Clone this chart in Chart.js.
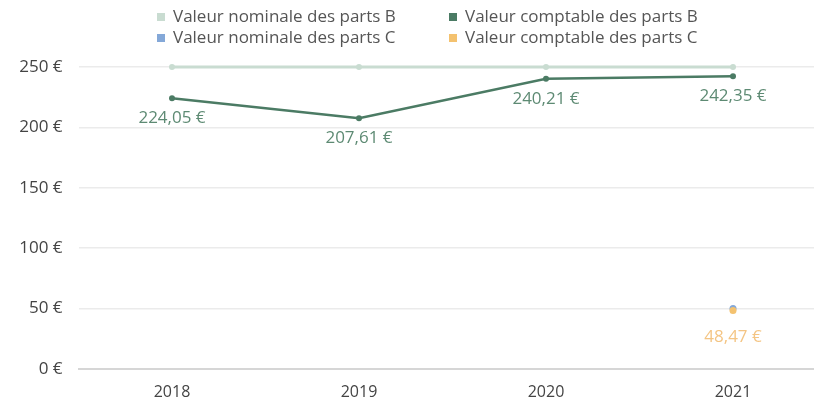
<!DOCTYPE html>
<html>
<head>
<meta charset="utf-8">
<script src="https://cdn.jsdelivr.net/npm/chart.js@4.4.1/dist/chart.umd.min.js"></script>
<style>
  html, body { margin: 0; padding: 0; background: #fff; overflow: hidden; }
  #wrap { position: relative; width: 880px; height: 401px; }
</style>
</head>
<body>
<div id="wrap"><canvas id="partsChart"></canvas></div>
<script>
// Valeurs des parts B et C
const years = ['2018', '2019', '2020', '2021'];
const nominalB = [250, 250, 250, 250];
const comptableB = [224.05, 207.61, 240.21, 242.35];
const nominalC = [null, null, null, 50];
const comptableC = [null, null, null, 48.47];
const yTicks = [0, 50, 100, 150, 200, 250];

const fontFamily = "'Open Sans', Lato, sans-serif";

const fmtEuro = v => v.toFixed(2).replace('.', ',') + ' €';

// value labels under the points of the "comptable" series
const valueLabels = {
  id: 'valueLabels',
  afterDatasetsDraw(chart) {
    const ctx = chart.ctx;
    ctx.save();
    ctx.font = '17px ' + fontFamily;
    ctx.textAlign = 'center';
    ctx.textBaseline = 'middle';
    chart.data.datasets.forEach((ds, i) => {
      if (!ds.showValues) return;
      const meta = chart.getDatasetMeta(i);
      meta.data.forEach((pt, j) => {
        const v = ds.data[j];
        if (v === null || v === undefined) return;
        ctx.fillStyle = ds.valueColor;
        ctx.fillText(fmtEuro(v), pt.x, pt.y + ds.valueOffset);
      });
    });
    ctx.restore();
  }
};

// legend in two columns (2 items per row), starting at opts.left
const gridLegend = {
  id: 'gridLegend',
  afterDraw(chart, args, opts) {
    const ctx = chart.ctx;
    const items = chart.data.datasets;
    ctx.save();
    ctx.font = opts.size + 'px ' + fontFamily;
    ctx.textBaseline = 'middle';
    ctx.textAlign = 'left';
    const box = opts.box;
    items.forEach((ds, i) => {
      const x = opts.left + (i % 2) * opts.colStep;
      const y = opts.top + Math.floor(i / 2) * opts.rowStep;
      ctx.fillStyle = ds.borderColor;
      ctx.fillRect(x, y - box / 2, box, box);
      ctx.fillStyle = opts.color;
      ctx.fillText(ds.label, x + box + opts.gap, y);
    });
    ctx.restore();
  }
};

const ctx = document.getElementById('partsChart').getContext('2d');
new Chart(ctx, {
  type: 'line',
  data: {
    labels: years,
    datasets: [
      {
        label: 'Valeur nominale des parts B',
        data: nominalB,
        borderColor: '#c9dcd1',
        backgroundColor: '#c9dcd1',
        borderWidth: 3,
        pointRadius: 3,
        pointBackgroundColor: '#c9dcd1',
        pointBorderWidth: 0,
        tension: 0,
        clip: false
      },
      {
        label: 'Valeur comptable des parts B',
        data: comptableB,
        borderColor: '#4b7b64',
        backgroundColor: '#4b7b64',
        borderWidth: 2.5,
        pointRadius: 3,
        pointBackgroundColor: '#4b7b64',
        pointBorderWidth: 0,
        tension: 0,
        clip: false,
        showValues: true,
        valueColor: '#5d8a73',
        valueOffset: 20
      },
      {
        label: 'Valeur nominale des parts C',
        data: nominalC,
        borderColor: '#84a8d8',
        backgroundColor: '#84a8d8',
        borderWidth: 2.5,
        pointRadius: 3.5,
        pointBackgroundColor: '#84a8d8',
        pointBorderWidth: 0,
        clip: false
      },
      {
        label: 'Valeur comptable des parts C',
        data: comptableC,
        order: -1,
        borderColor: '#f4c26f',
        backgroundColor: '#f4c26f',
        borderWidth: 2.5,
        pointRadius: 3.5,
        pointBackgroundColor: '#f4c26f',
        pointBorderWidth: 0,
        clip: false,
        showValues: true,
        valueColor: '#f4c584',
        valueOffset: 27
      }
    ]
  },
  options: {
    responsive: true,
    maintainAspectRatio: false,
    animation: false,
    layout: { padding: { top: 67, right: 53.5 } },
    plugins: {
      legend: { display: false },
      tooltip: { enabled: false },
      gridLegend: {
        size: 17,
        box: 8,
        gap: 8,
        color: '#555',
        left: 157,
        colStep: 292,
        top: 17,
        rowStep: 21
      }
    },
    scales: {
      x: {
        offset: true,
        grid: { display: false },
        border: { display: true, color: '#d6d6d6', width: 2 },
        ticks: {
          color: '#444',
          font: { family: fontFamily, size: 16 },
          padding: 6
        },
        afterFit(scale) { scale.height = 32; }
      },
      y: {
        min: 0,
        max: 250,
        afterBuildTicks(scale) { scale.ticks = yTicks.map(v => ({ value: v })); },
        grid: { color: '#ebebeb', lineWidth: 1.5, drawTicks: false },
        border: { display: false },
        ticks: {
          color: '#444',
          font: { family: fontFamily, size: 17 },
          padding: 16,
          callback: v => v + ' €'
        },
        afterFit(scale) { scale.width = 78.5; }
      }
    }
  },
  plugins: [valueLabels, gridLegend]
});
</script>
</body>
</html>
